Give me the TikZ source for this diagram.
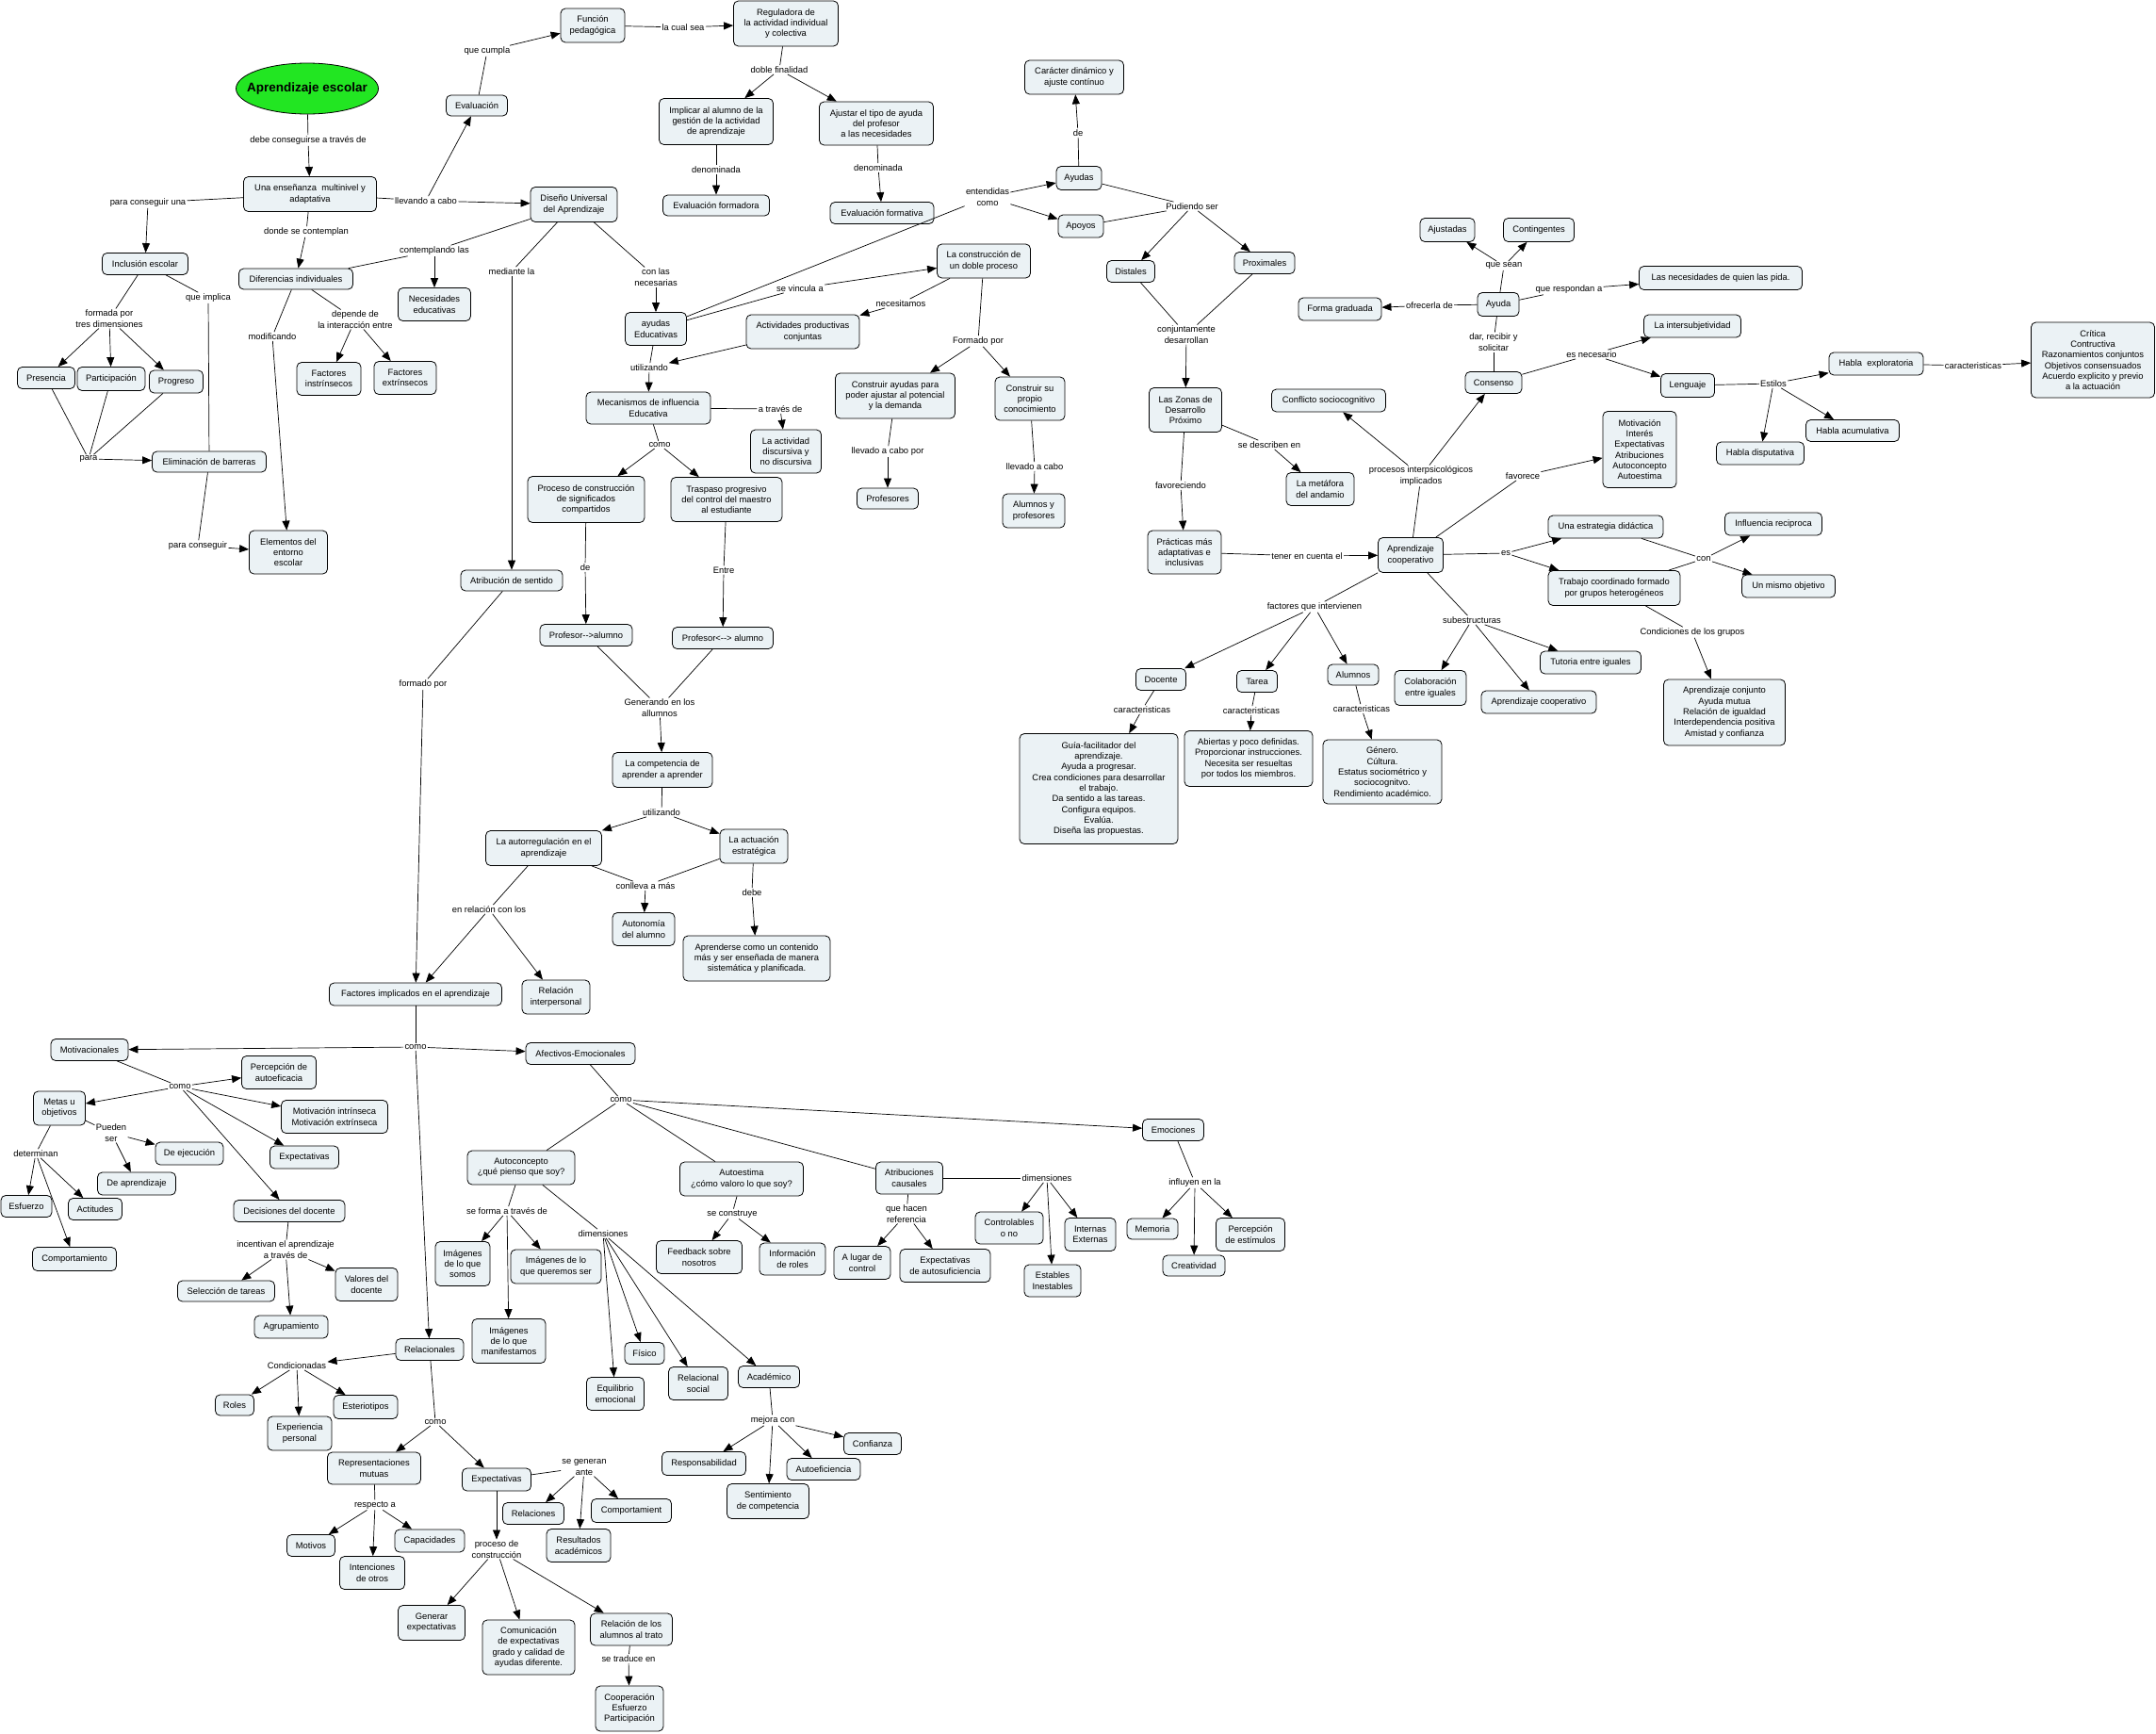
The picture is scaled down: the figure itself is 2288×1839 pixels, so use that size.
\documentclass[tikz,border=0pt]{standalone}
\usepackage{fontspec}
\setmainfont{Liberation Sans}
\usetikzlibrary{arrows.meta,shapes.geometric}
\definecolor{boxfill}{RGB}{235,242,245}
\definecolor{esgreen}{RGB}{34,230,34}
\newcommand\cn[6]{\node[concept,minimum width=#4pt,minimum height=#5pt] (#1) at (#2,#3) {#6};}
\newcommand\lk[4]{\node[lnk] (#1) at (#2,#3) {#4};}
\newcommand\Lnk[2]{\draw[cline] (#1) -- (#2);}
\newcommand\Arw[2]{\draw[carrow] (#1) -- (#2);}
\tikzset{
  concept/.style={draw=black, line width=0.8pt, fill=boxfill, rounded corners=5pt, align=center, inner sep=2pt, font=\fontsize{9.4}{11.3}\selectfont},
  lnk/.style={align=center, inner sep=1.2pt, font=\fontsize{9.4}{11.3}\selectfont},
  cline/.style={draw=black, line width=0.7pt},
  carrow/.style={draw=black, line width=0.7pt, -{Triangle[length=10pt,width=8pt]}}
}
\begin{document}
\begin{tikzpicture}[x=1pt,y=-1pt]
\fill[white] (0,0) rectangle (2288,1839);
\useasboundingbox (0,0) rectangle (2288,1839);
% ---------- concepts ----------
\node[ellipse, draw=black, line width=0.8pt, fill=esgreen, inner sep=0pt, minimum width=151pt, minimum height=54pt, font=\fontsize{13.5}{15}\selectfont\bfseries] (esc) at (326,94) {\makebox[0pt]{Aprendizaje escolar}};
\cn{ens}{329}{206}{141}{37}{Una enseñanza \ multinivel y\\adaptativa}
\cn{inc}{154}{280}{91}{23}{Inclusión escolar}
\cn{dua}{609}{217}{92}{37}{Diseño Universal\\del Aprendizaje}
\cn{eva}{506}{112}{65}{22}{Evaluación}
\cn{fun}{629}{27}{68}{36}{Función\\pedagógica}
\cn{reg}{834}{25}{111}{48}{Reguladora de\\la actividad individual\\y colectiva}
\cn{imp}{760}{129}{121}{49}{Implicar al alumno de la\\gestión de la actividad\\de aprendizaje}
\cn{aju}{930}{131}{121}{46}{Ajustar el tipo de ayuda\\del profesor\\a las necesidades}
\cn{evfd}{760}{218}{113}{22}{Evaluación formadora}
\cn{evfv}{936}{226}{110}{23}{Evaluación formativa}
\cn{dif}{314}{296}{121}{22}{Diferencias individuales}
\cn{nec}{461}{323}{77}{35}{Necesidades\\educativas}
\cn{pre}{49}{401}{61}{23}{Presencia}
\cn{par}{118}{402}{72}{25}{Participación}
\cn{pro}{187}{405}{57}{24}{Progreso}
\cn{fin}{349}{402}{68}{35}{Factores\\instrínsecos}
\cn{fex}{430}{401}{66}{35}{Factores\\extrínsecos}
\cn{eli}{222}{490}{121}{22}{Eliminación de barreras}
\cn{ele}{306}{586}{83}{46}{Elementos del\\entorno\\escolar}
\cn{atr}{543}{616}{108}{22}{Atribución de sentido}
\cn{aye}{696}{349}{65}{35}{ayudas\\Educativas}
\cn{ayu}{1145}{189}{48}{25}{Ayudas}
\cn{apo}{1147}{240}{48}{24}{Apoyos}
\cn{car}{1140}{82}{105}{36}{Carácter dinámico y\\ajuste contínuo}
\cn{cdp}{1044}{277}{99}{36}{La construcción de\\un doble proceso}
\cn{apc}{852}{352}{120}{36}{Actividades productivas\\conjuntas}
\cn{mec}{688}{433}{132}{34}{Mecanismos de influencia\\Educativa}
\cn{adi}{834}{479}{75}{46}{La actividad\\discursiva y\\no discursiva}
\cn{pcs}{622}{530}{124}{49}{Proceso de construcción\\de significados\\compartidos}
\cn{tra}{771}{530}{118}{47}{Traspaso progresivo\\del control del maestro\\al estudiante}
\cn{cay}{950}{420}{127}{48}{Construir ayudas para\\poder ajustar al potencial\\y la demanda}
\cn{csp}{1093}{423}{74}{46}{Construir su\\propio\\conocimiento}
\cn{prf}{942}{529}{65}{22}{Profesores}
\cn{ayp}{1097}{542}{66}{36}{Alumnos y\\profesores}
\cn{pa1}{622}{674}{98}{23}{Profesor-{}->alumno}
\cn{pa2}{767}{677}{107}{23}{Profesor<-{}-> alumno}
\cn{com}{703}{817}{106}{37}{La competencia de\\aprender a aprender}
\cn{aut}{577}{900}{123}{37}{La autorregulación en el\\aprendizaje}
\cn{act}{800}{898}{72}{36}{La actuación\\estratégica}
\cn{ton}{683}{986}{66}{35}{Autonomía\\del alumno}
\cn{apr}{803}{1017}{156}{48}{Aprenderse como un contenido\\más y ser enseñada de manera\\sistemática y planificada.}
\cn{rel}{590}{1058}{72}{36}{Relación\\interpersonal}
\cn{afe}{616}{1118}{116}{23}{Afectivos-Emocionales}
\cn{fac}{441}{1055}{183}{24}{Factores implicados en el aprendizaje}
\cn{mot}{95}{1114}{82}{23}{Motivacionales}
\cn{per}{296}{1138}{79}{35}{Percepción de\\autoeficacia}
\cn{met}{63}{1176}{55}{36}{Metas u\\objetivos}
\cn{mie}{355}{1185}{113}{35}{Motivación intrínseca\\Motivación extrínseca}
\cn{dej}{201}{1224}{72}{24}{De ejecución}
\cn{exm}{323}{1228}{73}{24}{Expectativas}
\cn{dap}{145}{1256}{83}{24}{De aprendizaje}
\cn{esf}{28}{1280}{54}{23}{Esfuerzo}
\cn{acti}{101}{1283}{57}{23}{Actitudes}
\cn{cmp}{79}{1336}{89}{25}{Comportamiento}
\cn{dec}{307}{1285}{118}{23}{Decisiones del docente}
\cn{sel}{240}{1370}{103}{22}{Selección de tareas}
\cn{val}{389}{1363}{66}{35}{Valores del\\docente}
\cn{agr}{309}{1408}{78}{24}{Agrupamiento}
\cn{rcn}{456}{1432}{72}{23}{Relacionales}
\cn{rol}{249}{1491}{41}{22}{Roles}
\cn{exp}{318}{1521}{68}{36}{Experiencia\\personal}
\cn{est}{388}{1493}{68}{25}{Esteriotipos}
\cn{rep}{397}{1558}{99}{34}{Representaciones\\mutuas}
\cn{exr}{527}{1570}{73}{24}{Expectativas}
\cn{mtv}{330}{1640}{51}{23}{Motivos}
\cn{int}{395}{1669}{69}{35}{Intenciones\\de otros}
\cn{cap}{456}{1635}{74}{24}{Capacidades}
\cn{gen}{458}{1722}{71}{37}{Generar\\expectativas}
\cn{cmn}{561}{1748}{98}{58}{Comunicación\\de expectativas\\grado y calidad de\\ayudas diferente.}
\cn{rla}{670}{1729}{87}{34}{Relación de los\\alumnos al trato}
\cn{coo}{668}{1813}{72}{48}{Cooperación\\Esfuerzo\\Participación}
\cn{rlc}{566}{1606}{65}{23}{Relaciones}
\cn{cpt}{670}{1603}{85}{25}{Comportamient}
\cn{res}{614}{1640}{68}{35}{Resultados\\académicos}
\cn{acp}{553}{1239}{114}{36}{Autoconcepto\\¿qué pienso que soy?}
\cn{ims}{491}{1341}{58}{47}{Imágenes\\de lo que\\somos}
\cn{imq}{590}{1344}{96}{36}{Imágenes de lo\\que queremos ser}
\cn{imm}{540}{1423}{78}{47}{Imágenes\\de lo que\\manifestamos}
\cn{aes}{787}{1251}{131}{36}{Autoestima\\¿cómo valoro lo que soy?}
\cn{atc}{965}{1250}{71}{34}{Atribuciones\\causales}
\cn{fee}{742}{1334}{91}{35}{Feedback sobre\\nosotros}
\cn{inf}{841}{1336}{70}{34}{Información\\de roles}
\cn{alc}{915}{1340}{60}{35}{A lugar de\\control}
\cn{eas}{1003}{1343}{96}{35}{Expectativas\\de autosuficiencia}
\cn{ctl}{1071}{1303}{72}{34}{Controlables\\o no}
\cn{esb}{1117}{1359}{60}{34}{Estables\\Inestables}
\cn{ine}{1157}{1310}{54}{35}{Internas\\Externas}
\cn{fis}{684}{1436}{42}{23}{Físico}
\cn{equ}{653}{1479}{61}{35}{Equilibrio\\emocional}
\cn{rso}{741}{1468}{63}{35}{Relacional\\social}
\cn{aca}{816}{1461}{65}{23}{Académico}
\cn{rsp}{747}{1553}{89}{25}{Responsabilidad}
\cn{sen}{815}{1593}{87}{37}{Sentimiento\\de competencia}
\cn{aef}{874}{1559}{78}{23}{Autoeficiencia}
\cn{cnf}{926}{1532}{61}{23}{Confianza}
\cn{emo}{1245}{1199}{65}{23}{Emociones}
\cn{mem}{1223}{1304}{54}{22}{Memoria}
\cn{cre}{1267}{1343}{66}{22}{Creatividad}
\cn{pde}{1327}{1310}{73}{35}{Percepción\\de estímulos}
\cn{dis}{1200}{288}{51}{23}{Distales}
\cn{prx}{1342}{279}{64}{23}{Proximales}
\cn{zdp}{1258}{435}{77}{47}{Las Zonas de\\Desarrollo\\Próximo}
\cn{maa}{1401}{519}{72}{35}{La metáfora\\del andamio}
\cn{pma}{1257}{586}{78}{46}{Prácticas más\\adaptativas e\\inclusivas}
\cn{acoop}{1497}{589}{69}{37}{Aprendizaje\\cooperativo}
\cn{cso}{1410}{425}{121}{24}{Conflicto sociocognitivo}
\cn{cns}{1585}{406}{60}{23}{Consenso}
\cn{ayd}{1590}{323}{44}{25}{Ayuda}
\cn{fgr}{1422}{328}{88}{24}{Forma graduada}
\cn{ajs}{1536}{244}{58}{25}{Ajustadas}
\cn{cnt}{1633}{244}{75}{25}{Contingentes}
\cn{nqp}{1826}{295}{173}{25}{Las necesidades de quien las pida.}
\cn{ints}{1796}{346}{103}{24}{La intersubjetividad}
\cn{len}{1791}{409}{57}{25}{Lenguaje}
\cn{hex}{1991}{386}{100}{24}{Habla \ exploratoria}
\cn{cri}{2221}{382}{131}{80}{Crítica\\Contructiva\\Razonamientos conjuntos\\Objetivos consensuados\\Acuerdo explicito y previo\\a la actuación}
\cn{hac}{1966}{457}{99}{23}{Habla acumulativa}
\cn{hdi}{1868}{481}{93}{24}{Habla disputativa}
\cn{mtb}{1740}{477}{78}{81}{Motivación\\Interés\\Expectativas\\Atribuciones\\Autoconcepto\\Autoestima}
\cn{une}{1704}{559}{122}{24}{Una estrategia didáctica}
\cn{trb}{1713}{624}{140}{37}{Trabajo coordinado formado\\por grupos heterogéneos}
\cn{irc}{1882}{556}{103}{24}{Influencia reciproca}
\cn{umo}{1898}{622}{99}{24}{Un mismo objetivo}
\cn{apj}{1830}{756}{129}{70}{Aprendizaje conjunto\\Ayuda mutua\\Relación de igualdad\\Interdependencia positiva\\Amistad y confianza}
\cn{doc}{1232}{721}{53}{23}{Docente}
\cn{tar}{1334}{723}{43}{23}{Tarea}
\cn{alu}{1436}{716}{54}{22}{Alumnos}
\cn{col}{1518}{730}{76}{37}{Colaboración\\entre iguales}
\cn{acpb}{1633}{745}{122}{24}{Aprendizaje cooperativo}
\cn{tut}{1688}{703}{107}{24}{Tutoria entre iguales}
\cn{gui}{1166}{837}{168}{117}{Guía-facilitador del\\aprendizaje.\\Ayuda a progresar.\\Crea condiciones para desarrollar\\el trabajo.\\Da sentido a las tareas.\\Configura equipos.\\Evalúa.\\Diseña las propuestas.}
\cn{abi}{1325}{805}{136}{59}{Abiertas y poco definidas.\\Proporcionar instrucciones.\\Necesita ser resueltas\\por todos los miembros.}
\cn{gnr}{1467}{819}{126}{68}{Género.\\Cúltura.\\Estatus sociométrico y\\sociocognitvo.\\Rendimiento académico.}
% ---------- linking phrases ----------
\lk{l1}{327}{149}{debe conseguirse a través de}
\lk{l2}{157}{215}{para conseguir una}
\lk{l3}{452}{213}{llevando a cabo}
\lk{l4}{517}{54}{que cumpla}
\lk{l5}{325}{246}{donde se contemplan}
\lk{l6}{461}{266}{contemplando las}
\lk{l7}{543}{288}{mediante la}
\lk{l8}{116}{338}{formada por\\tres dimensiones}
\lk{l9}{221}{316}{que implica}
\lk{l10}{289}{357}{modificando}
\lk{l11}{377}{339}{depende de\\la interacción entre}
\lk{l12}{94}{487}{para}
\lk{l13}{210}{579}{para conseguir}
\lk{l14}{725}{29}{la cual sea}
\lk{l15}{827}{74}{doble finalidad}
\lk{l16}{760}{180}{denominada}
\lk{l17}{932}{178}{denominada}
\lk{l18}{696}{294}{con las\\necesarias}
\lk{l19}{1048}{209}{entendidas\\como}
\lk{l20}{849}{306}{se vincula a}
\lk{l21}{956}{322}{necesitamos}
\lk{l22}{1038}{362}{Formado por}
\lk{l23}{689}{390}{utilizando}
\lk{l24}{828}{434}{a través de}
\lk{l25}{700}{472}{como}
\lk{l26}{942}{479}{llevado a cabo por}
\lk{l27}{1098}{495}{llevado a cabo}
\lk{l28}{621}{602}{de}
\lk{l29}{768}{605}{Entre}
\lk{l30}{700}{751}{Generando en los\\allumnos}
\lk{l31}{702}{862}{utilizando}
\lk{l32}{685}{940}{conlleva a más}
\lk{l33}{798}{947}{debe}
\lk{l34}{449}{726}{formado por}
\lk{l35}{519}{965}{en relación con los}
\lk{l36}{441}{1111}{como}
\lk{l37}{191}{1153}{como}
\lk{l38}{118}{1202}{Pueden\\ser}
\lk{l39}{38}{1224}{determinan}
\lk{l40}{303}{1326}{incentivan el aprendizaje\\a través de}
\lk{l41}{315}{1449}{Condicionadas}
\lk{l42}{462}{1509}{como}
\lk{l43}{398}{1597}{respecto a}
\lk{l44}{620}{1557}{se generan\\ante}
\lk{l45}{527}{1644}{proceso de\\construcción}
\lk{l46}{667}{1760}{se traduce en}
\lk{l47}{659}{1167}{como}
\lk{l48}{538}{1285}{se forma a través de}
\lk{l49}{640}{1309}{dimensiones}
\lk{l50}{820}{1507}{mejora con}
\lk{l51}{777}{1288}{se construye}
\lk{l52}{962}{1288}{que hacen\\referencia}
\lk{l53}{1111}{1250}{dimensiones}
\lk{l54}{1268}{1255}{influyen en la}
\lk{l55}{1144}{141}{de}
\lk{l56}{1265}{219}{Pudiendo ser}
\lk{l57}{1259}{355}{conjuntamente\\desarrollan}
\lk{l58}{1347}{472}{se describen en}
\lk{l59}{1253}{515}{favoreciendo}
\lk{l60}{1387}{590}{tener en cuenta el}
\lk{l61}{1508}{505}{procesos interpsicológicos\\implicados}
\lk{l62}{1585}{363}{dar, recibir y\\solicitar}
\lk{l63}{1517}{324}{ofrecerla de}
\lk{l64}{1596}{282}{que sean}
\lk{l65}{1665}{307}{que respondan a}
\lk{l66}{1689}{376}{es necesario}
\lk{l67}{1882}{407}{Estilos}
\lk{l68}{2094}{388}{caracteristicas}
\lk{l69}{1616}{505}{favorece}
\lk{l70}{1598}{587}{es}
\lk{l71}{1808}{593}{con}
\lk{l72}{1796}{671}{Condiciones de los grupos}
\lk{l73}{1395}{644}{factores que intervienen}
\lk{l74}{1562}{658}{subestructuras}
\lk{l75}{1212}{753}{caracteristicas}
\lk{l76}{1328}{754}{caracteristicas}
\lk{l77}{1445}{752}{caracteristicas}
% ---------- connectors ----------
\Lnk{esc}{l1}\Arw{l1}{ens}
\Lnk{ens}{l2}\Arw{l2}{inc}
\Lnk{ens}{l3}\Arw{l3}{dua}\Arw{l3}{eva}
\Lnk{ens}{l5}\Arw{l5}{dif}
\Lnk{eva}{l4}\Arw{l4}{fun}
\Lnk{fun}{l14}\Arw{l14}{reg}
\Lnk{reg}{l15}\Arw{l15}{imp}\Arw{l15}{aju}
\Lnk{imp}{l16}\Arw{l16}{evfd}
\Lnk{aju}{l17}\Arw{l17}{evfv}
\Lnk{dua}{l6}\Lnk{dif}{l6}\Arw{l6}{nec}
\Lnk{dua}{l7}\Arw{l7}{atr}
\Lnk{dua}{l18}\Arw{l18}{aye}
\Lnk{inc}{l8}\Arw{l8}{pre}\Arw{l8}{par}\Arw{l8}{pro}
\Lnk{inc}{l9}\Lnk{l9}{eli}
\Lnk{dif}{l10}\Arw{l10}{ele}
\Lnk{dif}{l11}\Arw{l11}{fin}\Arw{l11}{fex}
\Lnk{pre}{l12}\Lnk{par}{l12}\Lnk{pro}{l12}\Arw{l12}{eli}
\Lnk{eli}{l13}\Arw{l13}{ele}
\Lnk{aye}{l19}\Arw{l19}{ayu}\Arw{l19}{apo}
\Lnk{aye}{l20}\Arw{l20}{cdp}
\Lnk{aye}{l23}\Arw{apc}{l23}\Arw{l23}{mec}
\Lnk{cdp}{l21}\Arw{l21}{apc}
\Lnk{cdp}{l22}\Arw{l22}{cay}\Arw{l22}{csp}
\Lnk{cay}{l26}\Arw{l26}{prf}
\Lnk{csp}{l27}\Arw{l27}{ayp}
\Lnk{mec}{l24}\Arw{l24}{adi}
\Lnk{mec}{l25}\Arw{l25}{pcs}\Arw{l25}{tra}
\Lnk{pcs}{l28}\Arw{l28}{pa1}
\Lnk{tra}{l29}\Arw{l29}{pa2}
\Lnk{pa1}{l30}\Lnk{pa2}{l30}\Arw{l30}{com}
\Lnk{com}{l31}\Arw{l31}{aut}\Arw{l31}{act}
\Lnk{aut}{l32}\Lnk{act}{l32}\Arw{l32}{ton}
\Lnk{act}{l33}\Arw{l33}{apr}
\Lnk{aut}{l35}\Arw{l35}{fac}\Arw{l35}{rel}
\Lnk{atr}{l34}\Arw{l34}{fac}
\Lnk{fac}{l36}\Arw{l36}{mot}\Arw{l36}{afe}\Arw{l36}{rcn}
\Lnk{mot}{l37}\Arw{l37}{per}\Arw{l37}{met}\Arw{l37}{mie}\Arw{l37}{exm}\Arw{l37}{dec}
\Lnk{met}{l38}\Arw{l38}{dej}\Arw{l38}{dap}
\Lnk{met}{l39}\Arw{l39}{esf}\Arw{l39}{acti}\Arw{l39}{cmp}
\Lnk{dec}{l40}\Arw{l40}{sel}\Arw{l40}{agr}\Arw{l40}{val}
\Arw{rcn}{l41}\Arw{l41}{rol}\Arw{l41}{exp}\Arw{l41}{est}
\Lnk{rcn}{l42}\Arw{l42}{rep}\Arw{l42}{exr}
\Lnk{rep}{l43}\Arw{l43}{mtv}\Arw{l43}{int}\Arw{l43}{cap}
\Lnk{exr}{l44}\Arw{l44}{rlc}\Arw{l44}{res}\Arw{l44}{cpt}
\Arw{exr}{l45}\Arw{l45}{gen}\Arw{l45}{cmn}\Arw{l45}{rla}
\Lnk{rla}{l46}\Arw{l46}{coo}
\Lnk{afe}{l47}\Lnk{l47}{acp}\Lnk{l47}{aes}\Lnk{l47}{atc}\Arw{l47}{emo}
\Lnk{acp}{l48}\Arw{l48}{ims}\Arw{l48}{imq}\Arw{l48}{imm}
\Lnk{acp}{l49}\Arw{l49}{equ}\Arw{l49}{fis}\Arw{l49}{rso}\Arw{l49}{aca}
\Lnk{aca}{l50}\Arw{l50}{rsp}\Arw{l50}{sen}\Arw{l50}{aef}\Arw{l50}{cnf}
\Lnk{aes}{l51}\Arw{l51}{fee}\Arw{l51}{inf}
\Lnk{atc}{l52}\Arw{l52}{alc}\Arw{l52}{eas}
\Lnk{atc}{l53}\Arw{l53}{ctl}\Arw{l53}{esb}\Arw{l53}{ine}
\Lnk{emo}{l54}\Arw{l54}{mem}\Arw{l54}{cre}\Arw{l54}{pde}
\Lnk{ayu}{l55}\Arw{l55}{car}
\Lnk{ayu}{l56}\Lnk{apo}{l56}\Arw{l56}{dis}\Arw{l56}{prx}
\Lnk{dis}{l57}\Lnk{prx}{l57}\Arw{l57}{zdp}
\Lnk{zdp}{l58}\Arw{l58}{maa}
\Lnk{zdp}{l59}\Arw{l59}{pma}
\Lnk{pma}{l60}\Arw{l60}{acoop}
\Lnk{acoop}{l61}\Arw{l61}{cso}\Arw{l61}{cns}
\Lnk{cns}{l62}\Lnk{l62}{ayd}
\Lnk{ayd}{l63}\Arw{l63}{fgr}
\Lnk{ayd}{l64}\Arw{l64}{ajs}\Arw{l64}{cnt}
\Lnk{ayd}{l65}\Arw{l65}{nqp}
\Lnk{cns}{l66}\Arw{l66}{ints}\Arw{l66}{len}
\Lnk{len}{l67}\Arw{l67}{hex}\Arw{l67}{hac}\Arw{l67}{hdi}
\Lnk{hex}{l68}\Arw{l68}{cri}
\Lnk{acoop}{l69}\Arw{l69}{mtb}
\Lnk{acoop}{l70}\Arw{l70}{une}\Arw{l70}{trb}
\Lnk{une}{l71}\Lnk{trb}{l71}\Arw{l71}{irc}\Arw{l71}{umo}
\Lnk{trb}{l72}\Arw{l72}{apj}
\Lnk{acoop}{l73}\Arw{l73}{doc}\Arw{l73}{tar}\Arw{l73}{alu}
\Lnk{acoop}{l74}\Arw{l74}{col}\Arw{l74}{acpb}\Arw{l74}{tut}
\Lnk{doc}{l75}\Arw{l75}{gui}
\Lnk{tar}{l76}\Arw{l76}{abi}
\Lnk{alu}{l77}\Arw{l77}{gnr}
\end{tikzpicture}
\end{document}
